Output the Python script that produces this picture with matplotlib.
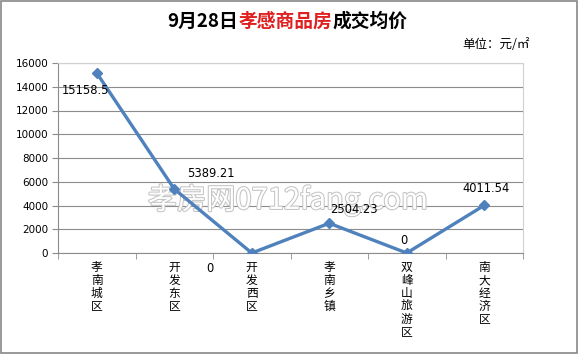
import matplotlib.pyplot as plt
from matplotlib.offsetbox import TextArea, HPacker, AnchoredOffsetbox
from matplotlib.patches import Rectangle
import matplotlib.patheffects as pe

plt.rcParams['font.family'] = ['Noto Sans CJK SC', 'DejaVu Sans']

# chart data
districts = ["孝南城区", "开发东区", "开发西区", "孝南乡镇", "双峰山旅游区", "南大经济区"]
prices = [15158.5, 5389.21, 0, 2504.23, 0, 4011.54]
price_labels = ["15158.5", "5389.21", "0", "2504.23", "0", "4011.54"]
label_offsets = [(-11, -18), (37, 16), (-42, -15), (25, 14), (-3, 13), (2, 17)]
y_ticks = [0, 2000, 4000, 6000, 8000, 10000, 12000, 14000, 16000]

fig = plt.figure(figsize=(5.78, 3.54), dpi=100)
ax = fig.add_axes([58 / 578, 1 - 253 / 354, 465 / 578, 190 / 354])

x = list(range(len(districts)))
ax.plot(x, prices, color="#4F81BD", linewidth=2.4, marker="D", markersize=5.5, zorder=3)

for xi, val, txt, off in zip(x, prices, price_labels, label_offsets):
    ax.annotate(txt, xy=(xi, val), xytext=off, textcoords="offset pixels",
                ha="center", va="center", fontsize=8.3, family="DejaVu Sans", zorder=4,
                annotation_clip=False)

ax.set_xlim(-0.5, len(districts) - 0.5)
ax.set_ylim(0, 16000)
ax.set_yticks(y_ticks)
ax.set_yticklabels([str(v) for v in y_ticks], fontsize=7.5, family="DejaVu Sans")
ax.yaxis.grid(True, color="#8c8c8c", linewidth=0.8)
ax.set_axisbelow(True)

ax.set_xticks(x)
ax.set_xticklabels(["\n".join(d) for d in districts], fontsize=8.5, linespacing=1.0, va="top")
ax.tick_params(axis="x", which="major", length=0, pad=6)
ax.set_xticks([i - 0.5 for i in range(len(districts) + 1)], minor=True)
ax.tick_params(axis="x", which="minor", length=4, color="#8c8c8c")
ax.tick_params(axis="y", length=4, color="#8c8c8c", pad=3)

for side in ["left", "bottom"]:
    ax.spines[side].set_color("#8c8c8c")
for side in ["top", "right"]:
    ax.spines[side].set_color("#d0d0d0")
    ax.spines[side].set_linewidth(0.8)

# watermark, drawn under the line and the value labels
ax.text(0.498, 0.435, "孝房网0712fang.com", transform=fig.transFigure,
        ha="center", va="center", fontsize=21, color="white",
        path_effects=[pe.withStroke(linewidth=1.5, foreground="#c4c4c4")], zorder=2.5)

# title in three colored parts
parts = [
    TextArea("9月28日", textprops=dict(fontsize=13.5, fontweight="bold", color="black")),
    TextArea("孝感商品房", textprops=dict(fontsize=13.5, fontweight="bold", color="#e02020")),
    TextArea("成交均价", textprops=dict(fontsize=13.5, fontweight="bold", color="black")),
]
title = AnchoredOffsetbox(loc="center", child=HPacker(children=parts, pad=0, sep=0),
                          frameon=False, bbox_to_anchor=(0.497, 0.94),
                          bbox_transform=fig.transFigure, borderpad=0)
fig.add_artist(title)

fig.text(0.858, 0.873, "单位：元/㎡", ha="center", va="center", fontsize=9)

fig.add_artist(Rectangle((0.001, 0.002), 0.997, 0.995, transform=fig.transFigure,
                         fill=False, edgecolor="#888888", linewidth=1.2))

fig.savefig("out.png", dpi=100)
